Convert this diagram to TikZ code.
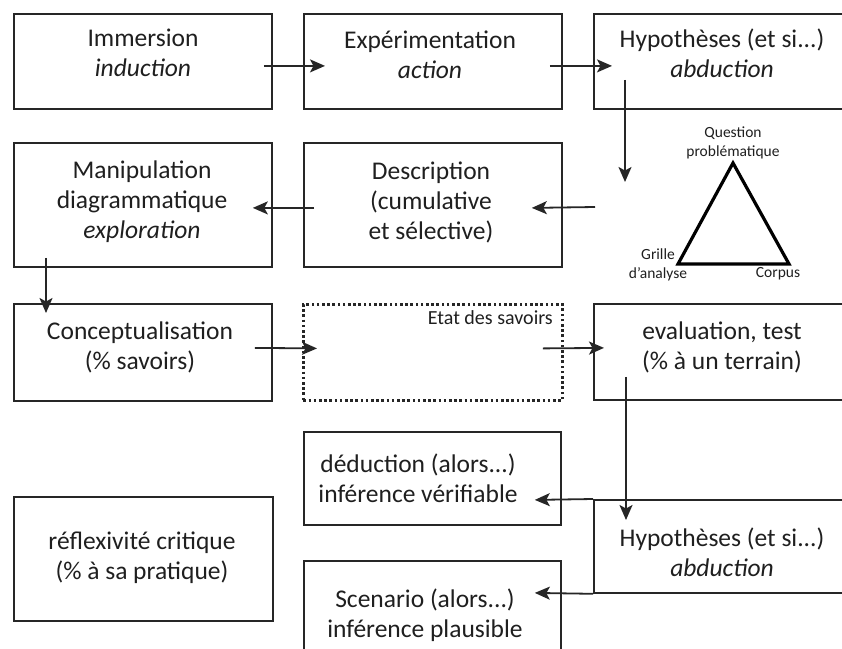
\documentclass[tikz,border=0pt]{standalone}
\usepackage{fontspec}
\setmainfont{Carlito}
\usetikzlibrary{arrows.meta,calc}
\begin{document}
\begin{tikzpicture}[x=1pt,y=-1pt,
  box/.style={draw=black!85,line width=1.8pt,inner sep=0pt,anchor=north west},
  dotbox/.style={box,line width=2.8pt,dash pattern=on 2.6pt off 2.6pt},
  txt/.style={font=\fontsize{25.5}{30}\selectfont,align=center,text=black!88,inner sep=0pt},
  smalltxt/.style={font=\fontsize{15.5}{19}\selectfont,align=center,text=black!88,inner sep=0pt},
  arr/.style={draw=black!85,line width=1.8pt,-{Stealth[length=15pt,width=13pt,inset=3.5pt]}},
  tri/.style={draw=black,line width=3.2pt,line join=miter}
  ]
\useasboundingbox (0,0) rectangle (842,648);
\fill[white] (0,0) rectangle (842,648);
\clip (0,0) rectangle (842,648);

% boxes
\node[box,minimum width=258pt,minimum height=95pt] (A) at (13,13) {};
\node[box,minimum width=258pt,minimum height=95pt] (B) at (303,13) {};
\node[box,minimum width=280pt,minimum height=95pt] (C) at (593,13) {};
\node[box,minimum width=258pt,minimum height=124pt] (D) at (13,142) {};
\node[box,minimum width=258pt,minimum height=124pt] (E) at (303,142) {};
\node[box,minimum width=258pt,minimum height=97pt] (F) at (13,303) {};
\node[dotbox,minimum width=259pt,minimum height=96pt] (G) at (302,303) {};
\node[box,minimum width=280pt,minimum height=96pt] (H) at (593,303) {};
\node[box,minimum width=257pt,minimum height=93pt] (I) at (303,431) {};
\node[box,minimum width=257pt,minimum height=120pt] (J) at (303,560) {};
\node[box,minimum width=259pt,minimum height=124pt] (K) at (13,496) {};
\node[box,minimum width=280pt,minimum height=93pt] (L) at (593,499) {};

% texts
\node[txt] (tA) at (143,53) {Immersion\\\textit{induction}};
\node[txt] (tB) at (430,55) {Expérimentation\\\textit{action}};
\node[txt] (tC) at (722,53) {Hypothèses (et si...)\\\textit{abduction}};
\node[txt] (tD) at (142,202) {Manipulation\\diagrammatique\\\textit{exploration}};
\node[txt] (tE) at (431,202) {Description\\(cumulative\\et sélective)};
\node[txt] (tF) at (140,347) {Conceptualisation\\(\% savoirs)};
\node[txt] (tH) at (722,347) {evaluation, test\\(\% à un terrain)};
\node[txt] (tI) at (418,478) {déduction (alors...)\\inférence vérifiable};
\node[txt] (tJ) at (425,615) {Scenario (alors...)\\inférence plausible};
\node[txt] (tK) at (142,558) {réflexivité critique\\(\% à sa pratique)};
\node[txt] (tL) at (722,552) {Hypothèses (et si...)\\\textit{abduction}};
\node[font=\fontsize{20}{24}\selectfont,text=black!88,inner sep=0pt,anchor=east] (tG) at (553,318) {Etat des savoirs};

% triangle
\coordinate (T1) at (733,163);
\coordinate (T2) at (678,264);
\coordinate (T3) at (789,264);
\draw[tri] (T1) -- (T2) -- (T3) -- cycle;
\node[smalltxt] (q) at (733,143) {Question\\problématique};
\node[smalltxt] (g) at (658,265) {Grille\\d’analyse};
\node[smalltxt] (co) at (778,274) {Corpus};

% connectors
\draw[arr] ([shift={(-9,4.5)}]A.east) -- ([shift={(22,4.5)}]B.west);
\draw[arr] ([shift={(-13,4.5)}]B.east) -- ([shift={(19,4.5)}]C.west);
\coordinate (c1) at (625,182);
\draw[arr] ([shift={(32,-30)}]C.south west) -- (c1);
\coordinate (c2) at (595,207);
\draw[arr] (c2) -- ([shift={(-31,3)}]E.east);
\draw[arr] ([shift={(11,3)}]E.west) -- ([shift={(-20,3)}]D.east);
\draw[arr] ([shift={(33,-10)}]D.south west) -- ([shift={(33,10)}]F.north west);
\draw[arr] ([shift={(-18,-4.5)}]F.east) -- ([shift={(15,-4)}]G.west);
\draw[arr] ([shift={(-21,-4)}]G.east) -- ([shift={(11,-4)}]H.west);
\draw[arr] ([shift={(33,-24)}]H.south west) -- ([shift={(33,21)}]L.north west);
\draw[arr] (L.north west) -- ([shift={(-27,21.5)}]I.east);
\draw[arr] (L.south west) -- ([shift={(-27,-28)}]J.east);
\end{tikzpicture}
\end{document}
